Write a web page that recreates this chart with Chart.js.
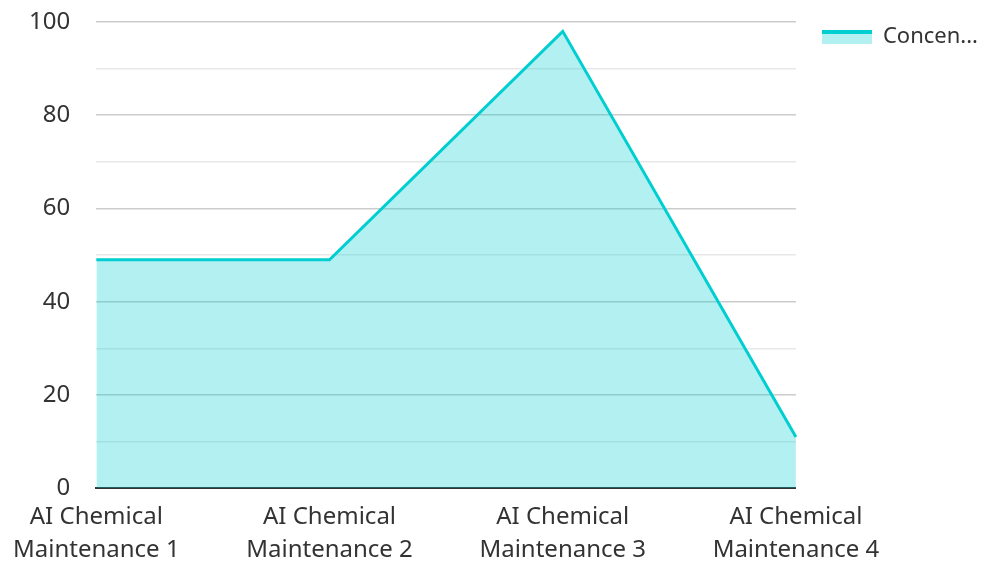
<!DOCTYPE html>
<html>
<head>
<meta charset="utf-8">
<script src="https://cdn.jsdelivr.net/npm/chart.js@4/dist/chart.umd.min.js"></script>
<style>
  html, body { margin: 0; padding: 0; background: #fff; }
  #wrap { width: 988px; height: 561px; }
</style>
</head>
<body>
<div id="wrap"><canvas id="chart"></canvas></div>
<script>
// --- Data ---
const categories = [
    ['AI Chemical', 'Maintenance 1'],
    ['AI Chemical', 'Maintenance 2'],
    ['AI Chemical', 'Maintenance 3'],
    ['AI Chemical', 'Maintenance 4']
];
const concentration = [49, 49, 98, 11];
const seriesLabel = 'Concentration';
const yTicks = [0, 20, 40, 60, 80, 100];

const LINE = '#00CED1';
const FILL = 'rgba(0, 206, 209, 0.3)';
const FONT = '"Noto Sans", sans-serif';

// legend swatch: line on top, light fill below
function makeSwatch() {
    const c = document.createElement('canvas');
    c.width = 50; c.height = 14;
    const g = c.getContext('2d');
    g.fillStyle = FILL;
    g.fillRect(0, 0, 50, 14);
    g.fillStyle = LINE;
    g.fillRect(0, 0, 50, 4);
    return c;
}
const swatch = makeSwatch();

const ctx = document.getElementById('chart').getContext('2d');
new Chart(ctx, {
    type: 'line',
    data: {
        labels: categories,
        datasets: [{
            label: seriesLabel,
            data: concentration,
            borderColor: LINE,
            backgroundColor: FILL,
            borderWidth: 3,
            fill: 'origin',
            tension: 0,
            pointRadius: 0,
            pointHoverRadius: 0
        }]
    },
    options: {
        responsive: true,
        maintainAspectRatio: false,
        animation: false,
        layout: { padding: { top: 0, right: 0, left: 0, bottom: -18 } },
        plugins: {
            tooltip: { enabled: false },
            legend: {
                position: 'right',
                align: 'start',
                labels: {
                    usePointStyle: true,
                    pointStyle: swatch,
                    pointStyleWidth: 50,
                    color: '#333',
                    font: { family: FONT, size: 22 },
                    padding: 26,
                    generateLabels: (chart) => {
                        const items = Chart.defaults.plugins.legend.labels.generateLabels(chart);
                        items.forEach(it => {
                            it.text = it.text.length > 6 ? it.text.slice(0, 6) + '...' : it.text;
                            it.pointStyle = swatch;
                        });
                        return items;
                    }
                }
            }
        },
        scales: {
            x: {
                offset: false,
                grid: { display: false, drawTicks: false },
                border: { display: true, color: '#333', width: 2 },
                ticks: {
                    color: '#333',
                    font: { family: FONT, size: 24, lineHeight: 1.35 },
                    maxRotation: 0,
                    autoSkip: false,
                    padding: 13
                }
            },
            y: {
                min: 0,
                max: 100,
                border: { display: false },
                afterFit: (scale) => { scale.paddingTop = 22; scale.paddingBottom = 0; },
                grid: {
                    drawTicks: false,
                    lineWidth: 1.5,
                    color: (c) => (yTicks.includes(c.tick.value) ? '#cccccc' : '#e8e8e8')
                },
                ticks: {
                    stepSize: 10,
                    padding: 26,
                    color: '#333',
                    font: { family: FONT, size: 24 },
                    callback: (v) => (yTicks.includes(v) ? v : '')
                }
            }
        }
    }
});
</script>
</body>
</html>
